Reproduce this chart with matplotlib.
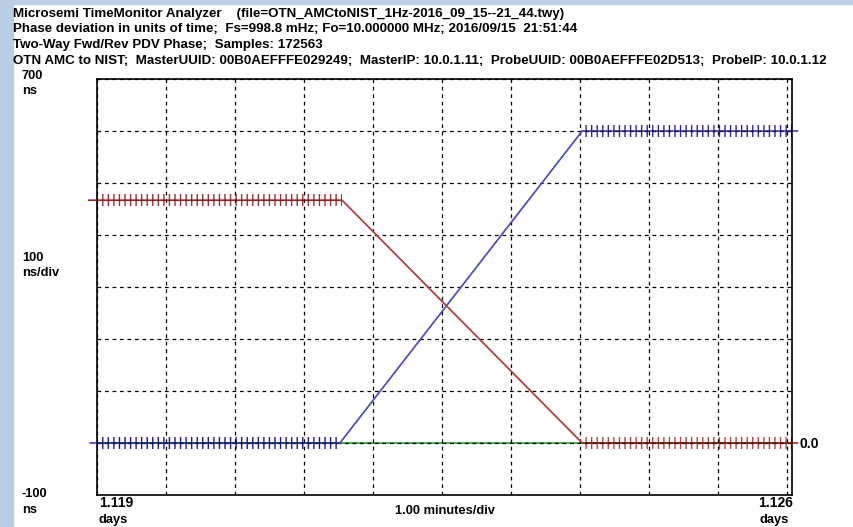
import matplotlib
matplotlib.use("Agg")
import matplotlib.pyplot as plt
from matplotlib.patches import Rectangle

# header lines
header = [
    "Microsemi TimeMonitor Analyzer    (file=OTN_AMCtoNIST_1Hz-2016_09_15--21_44.twy)",
    "Phase deviation in units of time;  Fs=998.8 mHz; Fo=10.000000 MHz; 2016/09/15  21:51:44",
    "Two-Way Fwd/Rev PDV Phase;  Samples: 172563",
    "OTN AMC to NIST;  MasterUUID: 00B0AEFFFE029249;  MasterIP: 10.0.1.11;  ProbeUUID: 00B0AEFFFE02D513;  ProbeIP: 10.0.1.12",
]

# time in minutes from 1.119 days, phase in ns
fwd_t = [-0.1, 3.52, 7.03, 10.15]
fwd_ns = [0, 0, 600, 600]
rev_t = [-0.12, 3.55, 7.03, 10.15]
rev_ns = [467, 467, 0, 0]

x_start, x_end = "1.119", "1.126"
y_top, y_bot = "700", "-100"

plt.rcParams['font.family'] = ['Liberation Sans', 'DejaVu Sans']
plt.rcParams['hatch.linewidth'] = 1.0

fig = plt.figure(figsize=(8.54, 5.27), dpi=100)
W, H = 854, 527

# light blue window border
fig.patches.append(Rectangle((0, 0), 13 / W, 1, transform=fig.transFigure,
                             color="#b9cde5", zorder=0))
fig.patches.append(Rectangle((0, 1 - 4 / H), 1, 4 / H, transform=fig.transFigure,
                             color="#b9cde5", zorder=0))

ax = fig.add_axes([97 / W, 1 - 495 / H, (792 - 97) / W, (495 - 79) / H])
ax.set_xlim(0, 10.07)
ax.set_ylim(-100, 700)
ax.set_xticks(range(0, 11))
ax.set_yticks(range(-100, 701, 100))
ax.tick_params(length=0, labelbottom=False, labelleft=False)
ax.grid(True, color="black", linestyle=(0, (3, 3)), linewidth=0.9, zorder=1.5)
ax.set_axisbelow(False)
for s in ax.spines.values():
    s.set_linewidth(1.2)

# zero reference
ax.axhline(0, color="#3cb44b", linewidth=1.4, zorder=1)

# sample tick bands on the flat parts
def ticks(x0, x1, y, h, col, hatch="|||"):
    ax.add_patch(Rectangle((x0, y - h), x1 - x0, 2 * h, facecolor="none",
                           edgecolor=col, linewidth=0, hatch=hatch, zorder=2))

ticks(fwd_t[0], fwd_t[1], fwd_ns[0], 12, "#1a1a8c")
ticks(fwd_t[2], fwd_t[3], fwd_ns[2], 12, "#2a2a9a")
ticks(rev_t[0], rev_t[1], rev_ns[0], 12, "#a03030")
ticks(rev_t[2], rev_t[3], rev_ns[2], 12, "#b04848")

ax.plot(fwd_t, fwd_ns, color="#1a1a8c", linewidth=1.0, zorder=3, clip_on=False)
ax.plot(fwd_t[1:3], fwd_ns[1:3], color="#5555c8", linewidth=1.0, zorder=3.1)
ax.plot(rev_t, rev_ns, color="#8b0000", linewidth=1.0, zorder=3, clip_on=False)
ax.plot(rev_t[1:3], rev_ns[1:3], color="#b04a4a", linewidth=1.0, zorder=3.1)

for i, line in enumerate(header):
    fig.text(13 / W, 1 - (17 + 15.5 * i) / H, line, fontsize=9.6, fontweight="bold",
             va="baseline", ha="left")

def lab(x, y, s, ha="left", fs=9.3):
    fig.text(x / W, 1 - y / H, s, fontsize=fs, fontweight="bold", va="baseline", ha=ha)

lab(22, 79, y_top)
lab(22, 94, "ns")
lab(22, 261, "100")
lab(22, 276, "ns/div")
lab(22, 497, y_bot)
lab(22, 513, "ns")
lab(99, 507, x_start, fs=10)
lab(99, 523, "days")
lab(445, 514, "1.00 minutes/div", ha="center")
lab(793, 507, x_end, ha="right", fs=10)
lab(760, 523, "days")
lab(800, 448, "0.0", fs=10)

fig.savefig("out.png", dpi=100)
